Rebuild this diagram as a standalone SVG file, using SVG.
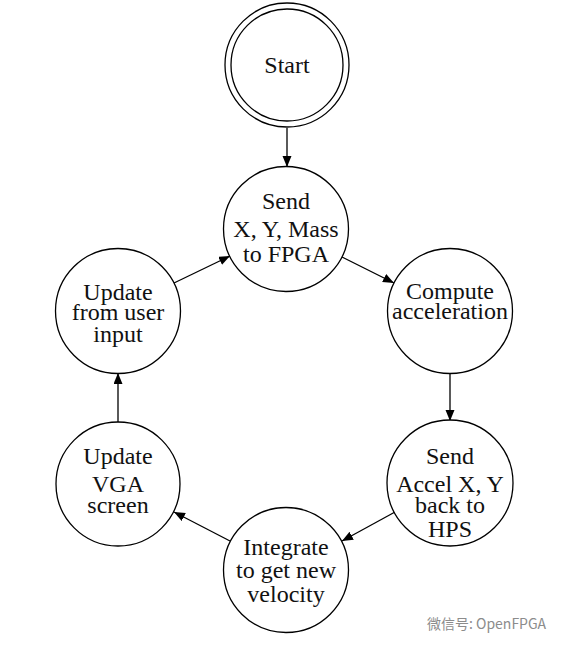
<svg xmlns="http://www.w3.org/2000/svg" width="565" height="651" viewBox="0 0 565 651">
<style>
.node circle{fill:#fff;stroke:#000;stroke-width:1.3}
.node text{font-family:"Liberation Serif","Times New Roman",serif;font-size:24px;fill:#111;text-anchor:middle}
.edge{stroke:#000;stroke-width:1.3;fill:none;marker-end:url(#arr)}
.wm{font-family:"Noto Sans CJK SC","Noto Sans",sans-serif;font-size:14px;fill:#8c8c8c}
</style>
<defs>
<marker id="arr" markerUnits="userSpaceOnUse" markerWidth="12" markerHeight="10" refX="11" refY="4.5" orient="auto">
<path d="M0,0 L11,4.5 L0,9 z" fill="#000"/>
</marker>
</defs>
<rect width="565" height="651" fill="#fff"/>
<g id="connectors">
<line class="edge" x1="287" y1="128" x2="287" y2="167"/>
<line class="edge" x1="342" y1="257" x2="394" y2="283"/>
<line class="edge" x1="450" y1="373" x2="450" y2="421"/>
<line class="edge" x1="395" y1="512" x2="342" y2="541"/>
<line class="edge" x1="230" y1="541" x2="174" y2="512"/>
<line class="edge" x1="118" y1="422" x2="118" y2="373"/>
<line class="edge" x1="174" y1="283" x2="230" y2="256"/>
</g>
<g id="start" class="node">
<circle cx="287" cy="65" r="62"/>
<circle cx="287" cy="65" r="56"/>
<text x="287" y="73">Start</text>
</g>
<g id="send" class="node">
<circle cx="286" cy="229" r="62.5"/>
<text x="286" y="209">Send</text>
<text x="286" y="237">X, Y, Mass</text>
<text x="286" y="262">to FPGA</text>
</g>
<g id="compute" class="node">
<circle cx="450" cy="311" r="62.5"/>
<text x="450" y="299">Compute</text>
<text x="450" y="319">acceleration</text>
</g>
<g id="sendaccel" class="node">
<circle cx="450" cy="483" r="63"/>
<text x="450" y="464">Send</text>
<text x="450" y="492">Accel X, Y</text>
<text x="450" y="513">back to</text>
<text x="450" y="537">HPS</text>
</g>
<g id="integrate" class="node">
<circle cx="286" cy="570" r="62.5"/>
<text x="286" y="555">Integrate</text>
<text x="286" y="578">to get new</text>
<text x="286" y="602">velocity</text>
</g>
<g id="vga" class="node">
<circle cx="118" cy="484" r="62"/>
<text x="118" y="464">Update</text>
<text x="118" y="492">VGA</text>
<text x="118" y="513">screen</text>
</g>
<g id="userinput" class="node">
<circle cx="118" cy="311" r="62.5"/>
<text x="118" y="300">Update</text>
<text x="118" y="320">from user</text>
<text x="118" y="342">input</text>
</g>
<g id="watermark">
<text class="wm" x="427" y="629">微信号: OpenFPGA</text>
</g>
</svg>
